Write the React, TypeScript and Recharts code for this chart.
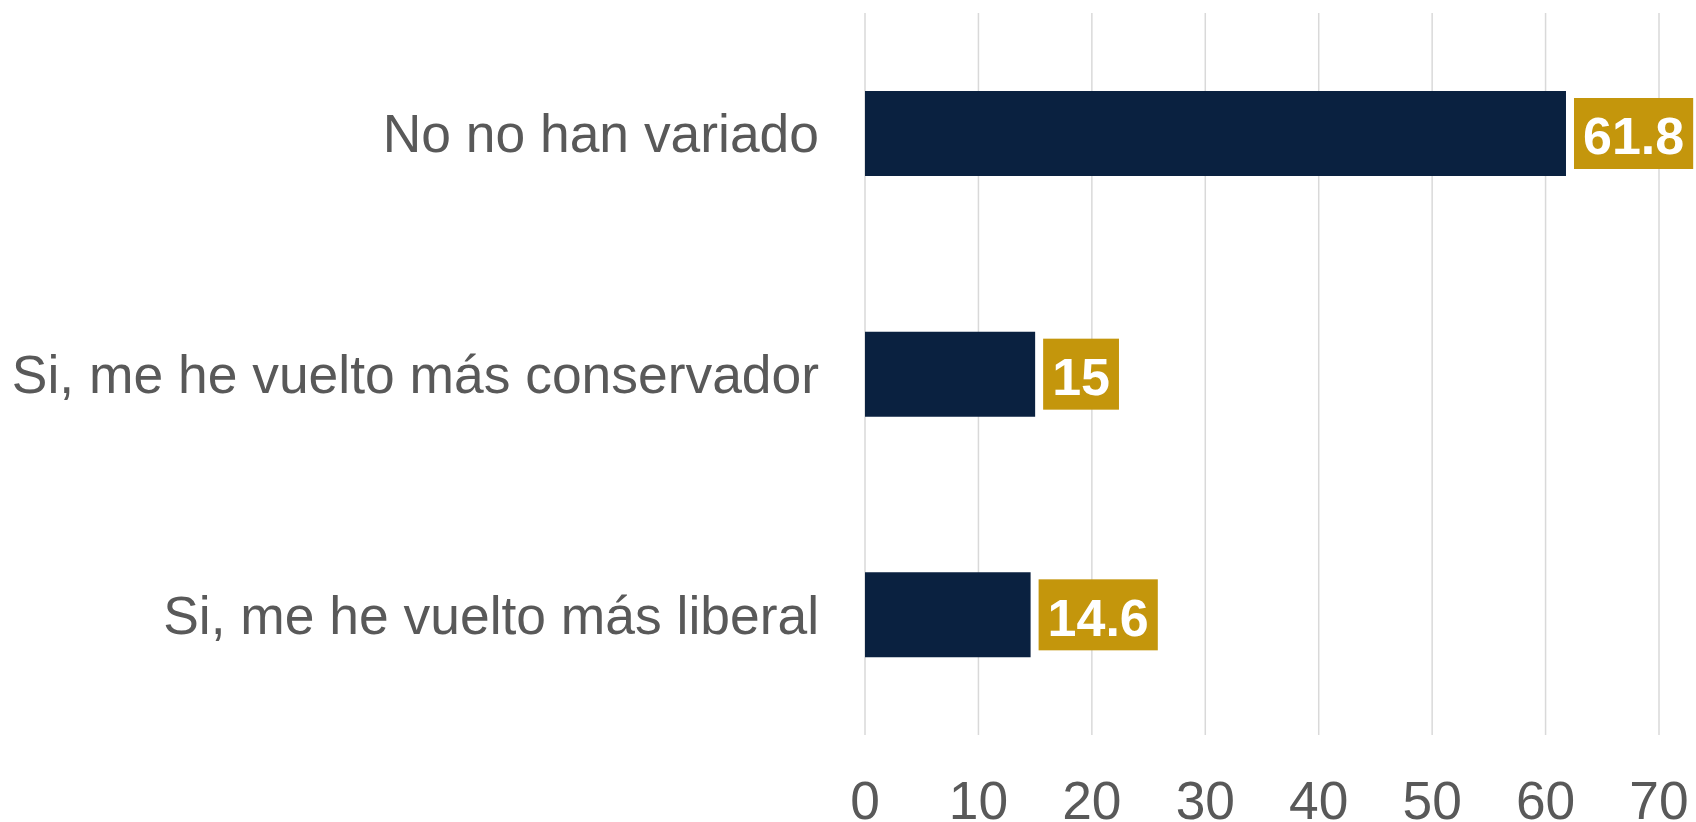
import React from "react";
import { BarChart, Bar, XAxis, YAxis, CartesianGrid, LabelList } from "recharts";

const categories = ["No no han variado", "Si, me he vuelto más conservador", "Si, me he vuelto más liberal"];
const values = [61.8, 15, 14.6];
const xTicks = [0, 10, 20, 30, 40, 50, 60, 70];

const data = categories.map((name, i) => ({ name, value: values[i] }));

const FONT = "'Liberation Sans', Arial, Helvetica, sans-serif";
const TEXT = "#595959";
const NAVY = "#0A2140";
const GOLD = "#C4960C";

const boldWidths: Record<string, number> = { ".": 0.278, ",": 0.278 };
const textWidth = (s: string, fs: number) => {
  let w = 0;
  for (const ch of s) w += boldWidths[ch] ?? 0.556;
  return w * fs;
};

const renderLabel = (props: any) => {
  const { x, y, width, height, value } = props;
  const text = String(value);
  const fs = 52;
  const tw = textWidth(text, fs);
  const bw = tw + 18;
  const bh = 71;
  const bx = Number(x) + Number(width) + 8;
  const cy = Number(y) + Number(height) / 2;
  return (
    <g>
      <rect x={bx} y={cy - bh / 2} width={bw} height={bh} fill={GOLD} />
      <text
        x={bx + bw / 2}
        y={cy}
        dy="0.4em"
        textAnchor="middle"
        fill="#ffffff"
        fontWeight="bold"
        fontSize={fs}
        fontFamily={FONT}
      >
        {text}
      </text>
    </g>
  );
};

export default function App() {
  return (
    <div style={{ position: "fixed", left: 0, top: 0, background: "#fff" }}>
      <BarChart
        width={1696}
        height={822}
        data={data}
        layout="vertical"
        margin={{ top: 13, right: 37, bottom: 0, left: 0 }}
        barCategoryGap={0}
      >
        <CartesianGrid horizontal={false} vertical={true} stroke="#D9D9D9" strokeWidth={1.5} />
        <XAxis
          type="number"
          domain={[0, 70]}
          ticks={xTicks}
          interval={0}
          axisLine={false}
          tickLine={false}
          tickSize={0}
          tickMargin={46}
          height={87}
          tick={{ fill: TEXT, fontSize: 53.3, fontFamily: FONT }}
        />
        <YAxis
          type="category"
          dataKey="name"
          width={865}
          axisLine={false}
          tickLine={false}
          tickSize={0}
          tickMargin={46}
          interval={0}
          tick={{ fill: TEXT, fontSize: 53.4, fontFamily: FONT }}
        />
        <Bar dataKey="value" fill={NAVY} barSize={85} isAnimationActive={false}>
          <LabelList dataKey="value" content={renderLabel} />
        </Bar>
      </BarChart>
    </div>
  );
}
